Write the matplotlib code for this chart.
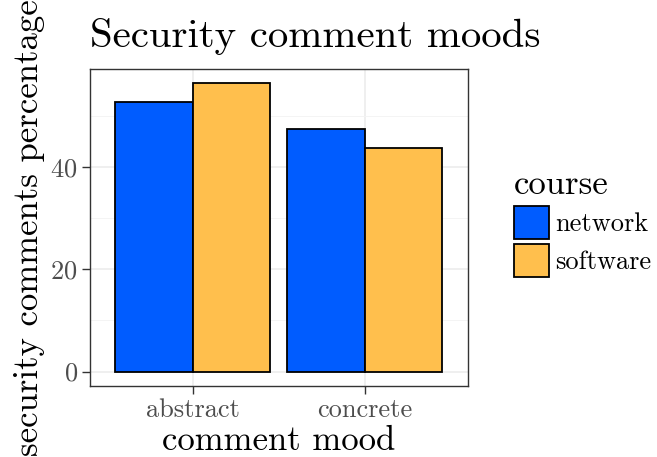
import matplotlib
matplotlib.use("Agg")
import matplotlib.pyplot as plt
import numpy as np
from matplotlib.patches import Patch

plt.rcParams['font.family'] = ['cmr10', 'DejaVu Serif']
plt.rcParams['axes.formatter.use_mathtext'] = True
plt.rcParams['mathtext.fontset'] = 'cm'

moods = ["abstract", "concrete"]
courses = ["network", "software"]
network = [52.6, 47.4]
software = [56.3, 43.7]
colors = {"network": "#005CFF", "software": "#FFBF4D"}

fig = plt.figure(figsize=(6.57, 4.57), dpi=100)
ax = fig.add_axes([89.5/657, 1-386/457, (468-89.5)/657, (386-69)/457])

x = np.arange(1, len(moods)+1)
w = 0.45
ax.bar(x - w/2, network, width=w, color=colors["network"], edgecolor="black", linewidth=1.3, zorder=3)
ax.bar(x + w/2, software, width=w, color=colors["software"], edgecolor="black", linewidth=1.3, zorder=3)

ax.set_xlim(0.4, 2.6)
ymax = max(max(network), max(software))
ax.set_ylim(-0.05*ymax, ymax*1.05)
ax.set_xticks(x)
ax.set_xticklabels(moods)
ax.set_yticks([0, 20, 40])
ax.set_yticks([10, 30, 50], minor=True)
ax.grid(True, which='major', color='#EBEBEB', linewidth=1.1, zorder=0)
ax.grid(True, which='minor', axis='y', color='#F3F3F3', linewidth=0.6, zorder=0)
ax.tick_params(axis='both', which='major', length=5.5, width=1, color='#333333',
               labelcolor='#4D4D4D', labelsize=19, pad=3)
ax.tick_params(axis='y', which='minor', length=0)
for s in ax.spines.values():
    s.set_color('#333333')
    s.set_linewidth(1.0)

ax.set_xlabel("comment mood", fontsize=25, labelpad=2.5)
ax.set_ylabel("security comments percentage", fontsize=25, labelpad=4)
ax.set_title("Security comment moods", fontsize=29.5, loc='left', x=0.0, pad=15.5)

handles = [Patch(facecolor=colors[c], edgecolor='black', linewidth=1.3) for c in courses]
leg = fig.legend(handles, courses, loc='upper left', bbox_to_anchor=(514/657, 1-169/457),
                 frameon=False, fontsize=19, title="course", title_fontsize=25,
                 handlelength=1.32, handleheight=1.5, handletextpad=0.25, labelspacing=0.22,
                 borderaxespad=0, borderpad=0)
leg._legend_box.align = "left"

fig.savefig("out.png", dpi=100)
